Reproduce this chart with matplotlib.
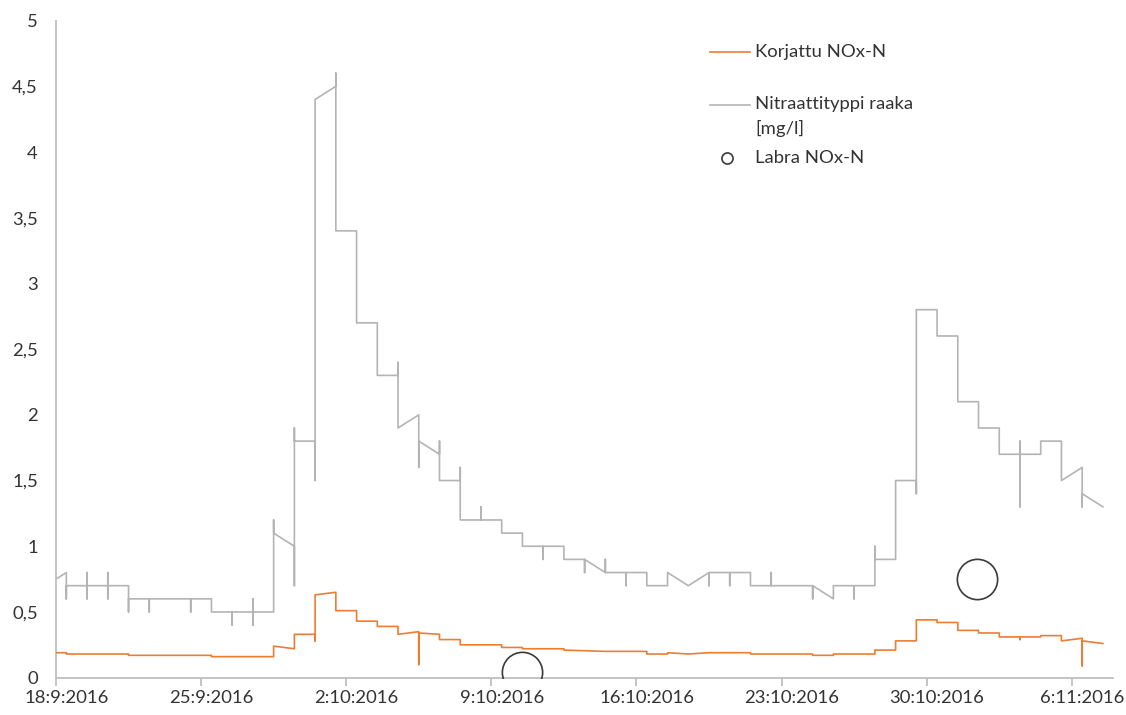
import numpy as np
import pandas as pd
import matplotlib
matplotlib.use("Agg")
import matplotlib.pyplot as plt
from matplotlib.lines import Line2D

plt.rcParams['font.family'] = ['Lato', 'DejaVu Sans']

start = pd.Timestamp("2016-09-18")

# raw nitrate probe, (days from 18.9., value); repeated days = jumps/spikes at noon
raw_days = [0.0, 0.5, 0.5, 0.5,
            1.5, 1.5, 1.5, 1.5,
            2.5, 2.5, 2.5, 2.5,
            3.5, 3.5, 3.5,
            4.5, 4.5, 4.5,
            6.5, 6.5, 6.5,
            7.5, 7.5,
            8.5, 8.5, 8.5,
            9.5, 9.5, 9.5, 9.5,
            10.5, 10.5, 10.5,
            11.5, 11.5, 11.5, 11.5,
            12.5, 12.5, 12.5,
            13.5, 13.5, 13.5,
            14.5, 14.5,
            15.5, 15.5,
            16.5, 16.5, 16.5,
            17.5, 17.5, 17.5,
            18.5, 18.5, 18.5,
            19.5, 19.5, 19.5,
            20.5, 20.5, 20.5,
            21.5, 21.5,
            22.5, 22.5,
            23.5, 23.5, 23.5,
            24.5, 24.5,
            25.5, 25.5, 25.5,
            26.5, 26.5, 26.5,
            27.5, 27.5, 27.5,
            28.5, 28.5,
            29.5, 29.5,
            30.5,
            31.5, 31.5, 31.5,
            32.5, 32.5, 32.5,
            33.5, 33.5,
            34.5, 34.5, 34.5,
            36.5, 36.5, 36.5,
            37.5, 37.5,
            38.5, 38.5, 38.5,
            39.5, 39.5, 39.5,
            40.5, 40.5,
            41.5, 41.5, 41.5,
            42.5, 42.5,
            43.5, 43.5,
            44.5, 44.5,
            45.5, 45.5,
            46.5, 46.5, 46.5, 46.5,
            47.5, 47.5,
            48.5, 48.5,
            49.5, 49.5, 49.5,
            50.5]
raw_vals = [0.75, 0.8, 0.6, 0.7,
            0.7, 0.8, 0.6, 0.7,
            0.7, 0.8, 0.6, 0.7,
            0.7, 0.5, 0.6,
            0.6, 0.5, 0.6,
            0.6, 0.5, 0.6,
            0.6, 0.5,
            0.5, 0.4, 0.5,
            0.5, 0.6, 0.4, 0.5,
            0.5, 1.2, 1.1,
            1.0, 0.7, 1.9, 1.8,
            1.8, 1.5, 4.4,
            4.5, 4.6, 3.4,
            3.4, 2.7,
            2.7, 2.3,
            2.3, 2.4, 1.9,
            2.0, 1.6, 1.8,
            1.7, 1.8, 1.5,
            1.5, 1.6, 1.2,
            1.2, 1.3, 1.2,
            1.2, 1.1,
            1.1, 1.0,
            1.0, 0.9, 1.0,
            1.0, 0.9,
            0.9, 0.8, 0.9,
            0.8, 0.9, 0.8,
            0.8, 0.7, 0.8,
            0.8, 0.7,
            0.7, 0.8,
            0.7,
            0.8, 0.7, 0.8,
            0.8, 0.7, 0.8,
            0.8, 0.7,
            0.7, 0.8, 0.7,
            0.7, 0.6, 0.7,
            0.6, 0.7,
            0.7, 0.6, 0.7,
            0.7, 1.0, 0.9,
            0.9, 1.5,
            1.5, 1.4, 2.8,
            2.8, 2.6,
            2.6, 2.1,
            2.1, 1.9,
            1.9, 1.7,
            1.7, 1.8, 1.3, 1.7,
            1.7, 1.8,
            1.8, 1.5,
            1.6, 1.3, 1.4,
            1.3]

# corrected NOx-N
cor_days = [0.0, 0.5, 0.5,
            1.5, 2.5, 3.5, 3.5,
            7.5, 7.5,
            10.5, 10.5,
            11.5, 11.5,
            12.5, 12.5, 12.5,
            13.5, 13.5,
            14.5, 14.5,
            15.5, 15.5,
            16.5, 16.5,
            17.5, 17.5, 17.5,
            18.5, 18.5,
            19.5, 19.5,
            21.5, 21.5,
            22.5, 22.5,
            24.5, 24.5,
            26.5,
            28.5, 28.5,
            29.5, 29.5,
            30.5,
            31.5,
            33.5, 33.5,
            36.5, 36.5,
            37.5, 37.5,
            39.5, 39.5,
            40.5, 40.5,
            41.5, 41.5,
            42.5, 42.5,
            43.5, 43.5,
            44.5, 44.5,
            45.5, 45.5,
            46.5, 46.5, 46.5,
            47.5, 47.5,
            48.5, 48.5,
            49.5, 49.5, 49.5,
            50.5]
cor_vals = [0.19, 0.19, 0.18,
            0.18, 0.18, 0.18, 0.17,
            0.17, 0.16,
            0.16, 0.24,
            0.22, 0.33,
            0.33, 0.28, 0.63,
            0.65, 0.51,
            0.51, 0.43,
            0.43, 0.39,
            0.39, 0.33,
            0.35, 0.10, 0.34,
            0.33, 0.29,
            0.29, 0.25,
            0.25, 0.23,
            0.23, 0.22,
            0.22, 0.21,
            0.20,
            0.20, 0.18,
            0.18, 0.19,
            0.18,
            0.19,
            0.19, 0.18,
            0.18, 0.17,
            0.17, 0.18,
            0.18, 0.21,
            0.21, 0.28,
            0.28, 0.44,
            0.44, 0.42,
            0.42, 0.36,
            0.36, 0.34,
            0.34, 0.31,
            0.31, 0.29, 0.31,
            0.31, 0.32,
            0.32, 0.28,
            0.30, 0.09, 0.28,
            0.26]

# lab samples
lab_days = [22.5, 44.45]
lab_vals = [0.04, 0.75]

y_ticks = [0, 0.5, 1, 1.5, 2, 2.5, 3, 3.5, 4, 4.5, 5]
x_tick_days = [0, 7, 14, 21, 28, 35, 42, 49]

ORANGE = "#ED7D31"
GRAY = "#B4B4B4"
TXT = "#333333"
FS = 13.3

raw_t = start + pd.to_timedelta(raw_days, unit="D")
cor_t = start + pd.to_timedelta(cor_days, unit="D")
lab_t = start + pd.to_timedelta(lab_days, unit="D")

fig = plt.figure(figsize=(11.26, 7.15), dpi=100)
ax = fig.add_axes([0.0497, 0.0522, 0.939, 0.919])

ax.plot(cor_t, cor_vals, color=ORANGE, lw=1.2, zorder=3)
ax.plot(raw_t, raw_vals, color=GRAY, lw=1.2, zorder=2)
ax.plot(lab_t, lab_vals, ls="none", marker="o", ms=29, mfc="none", mec="#3a3a3a",
        mew=1.2, zorder=4)

ax.set_ylim(0, 5)
ax.set_xlim(start, start + pd.Timedelta(days=51))
ax.set_yticks(y_ticks)
ax.set_yticklabels([f"{v:g}".replace(".", ",") for v in y_ticks])

# tick marks at midnight, date labels centred on the day (noon)
xt = [start + pd.Timedelta(days=d) for d in x_tick_days]
ax.set_xticks(xt)
ax.set_xticklabels([])
ax.set_xticks([t + pd.Timedelta(hours=12) for t in xt], minor=True)
ax.set_xticklabels([f"{t.day}:{t.month}:{t.year}" for t in xt], minor=True)

for s in ["top", "right"]:
    ax.spines[s].set_visible(False)
for s in ["left", "bottom"]:
    ax.spines[s].set_color("#BFBFBF")
    ax.spines[s].set_linewidth(1.3)
ax.tick_params(axis="y", length=0, pad=13, labelsize=FS, colors=TXT)
ax.tick_params(axis="x", which="major", length=6, width=1.3, color="#BFBFBF")
ax.tick_params(axis="x", which="minor", length=0, labelsize=FS,
               labelcolor=TXT, pad=9)

# legend, laid out by hand in figure pixels
W, H = 1126, 715
def fx(px):
    return px / W
def fy(py):
    return 1 - py / H

fig.add_artist(Line2D([fx(710), fx(750)], [fy(52), fy(52)], color=ORANGE, lw=1.2))
fig.text(fx(755), fy(52), "Korjattu NOx-N", va="center", ha="left",
         fontsize=FS, color=TXT)
fig.add_artist(Line2D([fx(710), fx(750)], [fy(105), fy(105)], color=GRAY, lw=1.2))
fig.text(fx(755), fy(104), "Nitraattityppi raaka", va="center", ha="left",
         fontsize=FS, color=TXT)
fig.text(fx(755), fy(128), "[mg/l]", va="center", ha="left",
         fontsize=FS, color=TXT)
fig.add_artist(Line2D([fx(727)], [fy(158)], ls="none", marker="o", ms=8,
                      mfc="none", mec="#3a3a3a", mew=1.2))
fig.text(fx(755), fy(158), "Labra NOx-N", va="center", ha="left",
         fontsize=FS, color=TXT)

fig.savefig("out.png", dpi=100)
